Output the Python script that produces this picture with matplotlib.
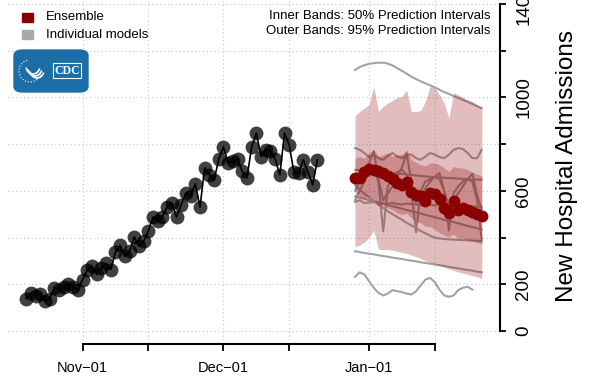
import numpy as np
import pandas as pd
import matplotlib
matplotlib.use("Agg")
import matplotlib.pyplot as plt
import matplotlib.dates as mdates
from matplotlib.patches import FancyBboxPatch, Rectangle, Arc

plt.rcParams['font.family'] = ['Liberation Sans', 'DejaVu Sans']

# observed daily admissions, Oct 20 - Dec 21
obs_start = "2021-10-20"
obs_values = [138, 163, 149, 160, 127, 138, 185, 177, 189, 203, 189, 177, 220, 260, 277, 242,
              270, 289, 263, 337, 366, 320, 341, 403, 362, 384, 427, 488, 469, 490, 530, 548,
              488, 541, 591, 579, 630, 531, 698, 669, 645, 736, 788, 719, 726, 736, 683, 655,
              788, 847, 747, 776, 769, 736, 669, 847, 797, 679, 676, 733, 679, 626, 733]

# forecast period Dec 29 - Jan 25
fc_start = "2021-12-29"
ensemble = [655, 653, 681, 695, 690, 683, 676, 664, 650, 634, 624, 638, 597, 584, 576, 556,
            591, 585, 565, 526, 505, 557, 520, 528, 518, 508, 501, 492]
upper95 = [921, 940, 955, 968, 1047, 940, 961, 976, 987, 1001, 1004, 1032, 940, 940, 944, 983,
           1047, 1040, 1011, 976, 911, 1021, 1011, 1001, 990, 983, 968, 958]
lower95 = [360, 368, 380, 400, 430, 350, 348, 348, 346, 341, 336, 333, 325, 318, 310, 300,
           293, 287, 280, 274, 266, 260, 252, 248, 242, 237, 232, 223]
upper50 = [740, 747, 740, 762, 776, 747, 755, 762, 747, 755, 755, 776, 733, 722, 712, 708,
           719, 719, 712, 698, 683, 705, 698, 698, 690, 680, 672, 665]
lower50 = [605, 576, 569, 576, 562, 534, 541, 527, 519, 505, 498, 505, 484, 469, 463, 448,
           448, 434, 420, 410, 402, 415, 396, 398, 390, 385, 378, 372]

# individual models
model_a = [1118, 1130, 1138, 1144, 1147, 1149, 1149, 1145, 1137, 1125, 1114, 1102, 1089, 1079,
           1069, 1060, 1052, 1043, 1033, 1023, 1015, 1006, 998, 989, 981, 972, 963, 954]
model_b = [232, 251, 242, 213, 185, 163, 152, 160, 175, 170, 166, 160, 156, 170, 195, 220,
           227, 209, 177, 152, 146, 152, 175, 185, 189, 177]
model_c = [341, 338, 334, 331, 328, 324, 321, 318, 314, 311, 308, 304, 301, 298, 294, 291,
           288, 284, 281, 278, 274, 271, 268, 264, 261, 258, 254, 251]
model_d = [783, 776, 762, 745, 755, 740, 733, 750, 762, 747, 740, 755, 755, 740, 733, 747,
           762, 755, 745, 740, 755, 776, 783, 779, 762, 740, 740, 776]
model_e = [626, 605, 588, 572, 556, 541, 527, 513, 500, 488, 476, 463, 452, 440, 428, 418,
           408, 400, 396, 394, 392, 391, 390, 389, 388, 387, 386, 384]
model_f = [560, 600, 640, 690, 700, 640, 427, 620, 660, 680, 690, 670, 600, 422, 600, 640,
           650, 660, 650, 600, 430, 590, 620, 640, 650, 640, 560, 391]
model_g = [600, 640, 680, 720, 770, 650, 560, 590, 620, 660, 700, 760, 640, 550, 580, 610,
           640, 660, 676, 600, 530, 560, 590, 620, 650, 673, 580, 520]
model_h = [690, 688, 700, 690, 685, 683, 680, 678, 676, 674, 672, 670, 668, 666, 664, 662,
           660, 659, 658, 656, 655, 654, 652, 651, 650, 649, 648, 648]
model_i = [552, 560, 548, 550, 552, 548, 546, 545, 548, 544, 542, 545, 544, 542, 540, 541,
           540, 538, 539, 537, 536, 538, 535, 534, 533, 534, 532, 530]
model_j = [576, 571, 566, 560, 555, 550, 545, 539, 534, 529, 524, 518, 513, 508, 503, 497,
           492, 487, 482, 476, 471, 466, 461, 455, 450, 445, 440, 434]
models = [model_a, model_b, model_c, model_d, model_e, model_f, model_g, model_h, model_i, model_j]

x_ticks = ["2021-11-01", "2021-11-15", "2021-12-01", "2021-12-15", "2022-01-01", "2022-01-15"]
x_labels = ["Nov\u221201", "", "Dec\u221201", "", "Jan\u221201", ""]
y_ticks = [0, 200, 400, 600, 800, 1000, 1200, 1400]
y_labels = ["0", "200", "", "600", "", "1000", "", "1400"]

obs_dates = pd.date_range(obs_start, periods=len(obs_values), freq="D")
fc_dates = pd.date_range(fc_start, periods=len(ensemble), freq="D")

W, H = 589, 380
fig = plt.figure(figsize=(W / 100, H / 100), dpi=100)
# plot region in pixels: x 8..500, y -9..344 (from top)
ax = fig.add_axes([8 / W, (H - 344) / H, 492 / W, 353 / H])

x0 = mdates.date2num(obs_dates[0])
x1 = mdates.date2num(fc_dates[-1])
pad = (x1 - x0) * 0.04
ax.set_xlim(x0 - pad, x1 + pad)
ax.set_ylim(-56, 1456)

# grid
for t in y_ticks:
    ax.axhline(t, color="#c8c8c8", lw=0.8, ls=(0, (1, 2.5)), zorder=0)
for t in x_ticks:
    ax.axvline(mdates.datestr2num(t), color="#c8c8c8", lw=0.8, ls=(0, (1, 2.5)), zorder=0)

for m in models:
    ax.plot(fc_dates[:len(m)], m, color="#a3a3a3", lw=1.5, zorder=1)

band = "#8b0000"
ax.fill_between(fc_dates, lower95, upper95, color=band, alpha=0.26, lw=0, zorder=2)
ax.fill_between(fc_dates, lower50, upper50, color=band, alpha=0.26, lw=0, zorder=2)
ax.plot(fc_dates, ensemble, color=band, lw=2.5, zorder=3)
ax.plot(fc_dates, ensemble, "o", color=band, ms=8.5, mec="none", zorder=3)

ax.plot(obs_dates, obs_values, color="black", lw=1.2, zorder=4)
ax.plot(obs_dates, obs_values, "o", color="black", alpha=0.75, ms=10, mec="none", zorder=4)

# axes in R style
for s in ["top", "left"]:
    ax.spines[s].set_visible(False)
ax.spines["bottom"].set_bounds(mdates.datestr2num(x_ticks[0]), mdates.datestr2num(x_ticks[-1]))
ax.spines["right"].set_bounds(0, 1400)
ax.spines["bottom"].set_linewidth(1.5)
ax.spines["right"].set_linewidth(1.5)

ax.set_xticks([mdates.datestr2num(t) for t in x_ticks])
ax.set_xticklabels(x_labels, fontsize=10.5)
ax.tick_params(axis="x", direction="out", length=5, width=1.3, pad=7)
ax.yaxis.tick_right()
ax.set_yticks(y_ticks)
ax.set_yticklabels(y_labels, fontsize=13.5, rotation=90, va="center")
ax.tick_params(axis="y", direction="out", length=4, width=1.3, pad=7)
fig.text(567 / W, 1 - 166 / H, "New Hospital Admissions", rotation=90, fontsize=17.5,
         ha="center", va="center")

# legend
fig.patches.append(Rectangle((22 / W, 1 - 22 / H), 11 / W, 9 / H, transform=fig.transFigure,
                             color=band))
fig.patches.append(Rectangle((22 / W, 1 - 39 / H), 11 / W, 9 / H, transform=fig.transFigure,
                             color="#a9a9a9"))
fig.text(46 / W, 1 - 17 / H, "Ensemble", fontsize=9.5, va="center")
fig.text(46 / W, 1 - 35 / H, "Individual models", fontsize=9.5, va="center")
fig.text(491 / W, 1 - 16 / H, "Inner Bands: 50% Prediction Intervals", fontsize=9.5,
         ha="right", va="center")
fig.text(491 / W, 1 - 31 / H, "Outer Bands: 95% Prediction Intervals", fontsize=9.5,
         ha="right", va="center")

# CDC logo
cdc_blue = "#1b6fa6"
fig.patches.append(FancyBboxPatch((14 / W, 1 - 92 / H), 74 / W, 42 / H,
                                  boxstyle="round,pad=0,rounding_size=0.015",
                                  transform=fig.transFigure, color=cdc_blue))
fig.patches.append(Arc((30 / W, 1 - 71 / H), 22 / W, 22 / H, theta1=100, theta2=330,
                       transform=fig.transFigure, color="white", lw=0.8, ls=":"))
for k in range(3):
    fig.patches.append(Arc(((33 + 2 * k) / W, 1 - (66 + 2 * k) / H), 14 / W, 16 / H,
                           theta1=200, theta2=330, transform=fig.transFigure,
                           color="white", lw=1.2))
fig.patches.append(Rectangle((53 / W, 1 - 78 / H), 28 / W, 15 / H, transform=fig.transFigure,
                             fill=False, ec="white", lw=0.8))
fig.text(67 / W, 1 - 70.5 / H, "CDC", fontsize=8.5, color="white", weight="bold",
         family="Liberation Serif", ha="center", va="center")

fig.savefig("out.png", dpi=100)
